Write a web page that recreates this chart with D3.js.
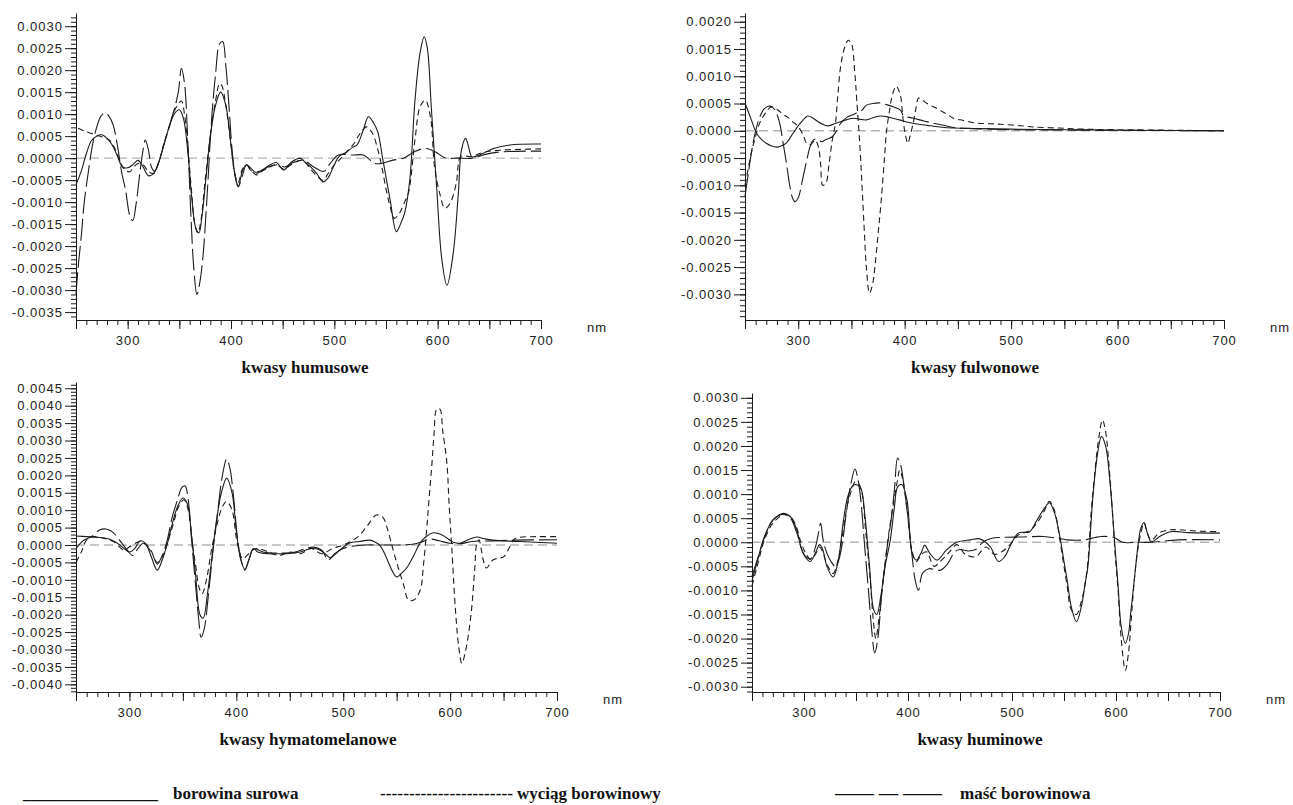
<!DOCTYPE html>
<html>
<head>
<meta charset="utf-8">
<script src="https://cdn.jsdelivr.net/npm/d3@7"></script>
<style>
  body { margin: 0; background: #fff; }
  svg { display: block; }
</style>
</head>
<body>
<svg id="chart" width="1293" height="805"></svg>
<script>
// all values, in units of 1e-4 (tick labels are divided back)

// --- kwasy humusowe
const humSurowa = [[250,-6],[255,-3],[260,1],[265,4],[270,5],[275,5.3],[280,4.5],[285,3],[290,0.5],[295,-2],[300,-2.2],[305,-1.5],[310,-0.5],[315,-2],[320,-4],[325,-3.5],[330,-1],[335,3],[340,7],[345,10],[350,11],[354,9],[358,2],[362,-9],[366,-16],[369,-17],[372,-13],[376,-4],[380,5],[385,12],[390,15],[395,12],[400,3],[404,-4],[407,-6.5],[411,-3],[415,-1.5],[420,-2.5],[425,-3.4],[431,-2.6],[438,-1.5],[444,-1],[451,-2.7],[458,-1],[467,0],[472,-1],[477,-2],[483,-3.5],[489,-5.4],[494,-4.5],[499,-2],[505,0.5],[512,1.4],[518,2.5],[522,3],[528,6.4],[533,9.4],[538,8],[542,6],[547,-0.4],[554,-9.5],[560,-16.7],[564,-15],[568,-12.5],[573,-5],[578,13],[583,24],[587,27.6],[590,25],[594,11],[599,-6.5],[604,-23],[609,-28.9],[615,-21.7],[620,-8],[623,1.8],[627,4.5],[630,2.5],[633,0.3],[638,0.5],[644,1.1],[654,2.2],[670,3],[700,3.2]];
const humWyciag = [[252,6.8],[260,6],[270,5.2],[278,4.6],[283,4],[288,2],[294,-1.5],[298,-2.8],[302,-3.1],[306,-2],[310,-1.2],[315,-1.5],[320,-3],[325,-3.5],[330,-1],[335,3.3],[340,7],[344,10],[348,12],[352,13],[355,10],[358,3],[362,-8],[365,-15],[368,-17],[371,-14],[375,-5],[380,5],[385,13],[389,17],[391,16.6],[395,12],[400,3],[404,-4],[407,-5.5],[411,-2.5],[415,-1.5],[420,-3],[425,-3.8],[431,-2.8],[438,-2],[444,-1.5],[451,-2.5],[458,-1.5],[467,-0.5],[472,-1],[477,-2.5],[483,-4],[489,-5],[494,-3.5],[500,-1.5],[505,-0.4],[512,1.5],[518,3],[525,5.6],[531,7.1],[537,5.6],[542,2],[546,-2],[550,-7],[554,-11],[558,-13.7],[563,-12.5],[568,-10],[572,-7.6],[578,4.1],[583,11.7],[588,13.2],[593,9.4],[597,-2],[602,-8],[607,-11.4],[612,-10.3],[618,-5.7],[622,0.3],[627,0.5],[632,0.3],[640,1],[648,1.5],[660,1.8],[680,2],[700,2.1]];
const humMasc = [[250,-31],[252,-25],[255,-18],[258,-10],[262,-3],[266,3],[270,7],[274,9.5],[278,10.3],[282,9.5],[286,7.5],[290,3],[294,-3],[298,-7.3],[302,-13],[305,-14.2],[308,-10.7],[312,-3],[315,2],[317,4.1],[320,2],[323,-2],[326,-3],[330,-1],[335,3],[340,7],[345,11],[349,15],[352,20.4],[355,17],[358,5],[361,-12],[364,-25],[367,-31],[370,-28],[373,-22],[377,-8],[381,8],[385,19],[389,26],[392,26.5],[395,21],[398,12],[401,2],[404,-4],[407,-6.5],[411,-4],[415,-1.5],[420,-3],[428,-3],[436,-2],[445,-1.5],[452,-2],[460,-1],[470,-0.5],[480,-2],[490,-3],[496,-1.2],[504,0.7],[518,0.7],[528,0.7],[535,-0.5],[539,-1.2],[546,-1.2],[556,-0.5],[567,0],[577,1.4],[588,2.2],[598,1.4],[607,0.1],[620,0],[635,0],[645,0.8],[660,1.4],[700,1.6]];

// --- kwasy fulwonowe
const fulSurowa = [[250,5.1],[255,2.5],[261,-0.5],[265,-1.5],[270,-2.3],[275,-2.8],[280,-3],[285,-2.7],[289,-2.2],[295,-0.5],[302,1.4],[309,2.7],[314,2.3],[319,1.6],[324,1.1],[328,0.9],[333,1.2],[339,1.6],[345,2],[352,2.3],[358,2.1],[364,2],[370,2.4],[377,2.7],[383,2.6],[389,2.3],[395,2],[402,1.6],[410,1.3],[421,1],[433,0.7],[446,0.5],[470,0.4],[500,0.3],[550,0.2],[600,0.1],[650,0.05],[700,0]];
const fulWyciag = [[250,-10],[253,-7],[256,-4],[259,-1.7],[264,1.5],[269,3.2],[273,4.2],[276,4.4],[281,3.8],[286,3],[290,2.5],[295,1.6],[299,1],[304,-0.5],[308,-2.3],[312,-2.5],[316,-1.7],[319,-3],[321,-6],[323,-10],[326,-9.6],[329,-6],[332,-1.7],[335,1.4],[337,6],[340,12],[344,15.5],[347,16.6],[350,16],[353,11],[355,5.6],[358,-3],[360,-10.3],[362,-18],[364,-25],[367,-29.8],[370,-28],[372,-25],[375,-19],[378,-12.7],[381,-5],[383,0],[386,4],[388,6.2],[392,8.2],[396,6.5],[398,3],[400,0],[403,-2.3],[405,-1],[408,1.4],[411,4.5],[413,6],[417,5.6],[421,5],[427,4.4],[433,3.8],[440,3],[446,2.3],[455,1.9],[468,1.4],[480,1.3],[490,1.2],[505,1],[521,0.7],[545,0.5],[568,0.3],[600,0.2],[650,0.1],[700,0]];
const fulMasc = [[250,-12],[253,-8],[256,-4],[260,0],[264,2.6],[268,4],[272,4.5],[276,4.3],[280,3],[283,1],[286,-2.5],[289,-6],[292,-10],[295,-12.5],[297,-13],[300,-12.3],[304,-9],[308,-5.4],[311,-3],[314,-1.7],[318,-1.5],[322,-2],[326,-1.6],[332,-1.1],[336,0],[340,1.4],[346,2.5],[352,3],[356,3.4],[360,3.8],[364,4.7],[370,5],[377,5.1],[383,4.8],[389,4.4],[396,3.8],[399,2.7],[403,2.5],[408,2.3],[418,1.8],[427,1.4],[437,1],[446,0.6],[465,0.4],[480,0.3],[500,0.2],[550,0.15],[600,0.1],[650,0.05],[700,0]];

// --- kwasy hymatomelanowe
const hymSurowa = [[250,2.6],[260,2.4],[270,2.2],[280,1.8],[286,1],[290,0.2],[295,-1],[300,-2],[305,-1],[310,1.2],[315,0.5],[320,-3],[326,-7.2],[331,-4],[336,1],[340,6],[345,11],[350,13.5],[354,12],[358,3],[362,-9],[366,-20],[369,-21],[373,-14],[377,-4],[381,6],[386,15],[391,19.2],[396,15],[400,4],[404,-4],[408,-7],[412,-4],[416,-1],[420,-2],[430,-2.5],[440,-2.5],[450,-2.4],[460,-2],[470,-1],[478,-1.4],[483,-2.5],[488,-3.7],[493,-2.5],[497,-1.4],[506,0.6],[515,1],[525,1.4],[530,0.8],[534,0],[538,-2],[542,-4.8],[546,-7.5],[550,-9.2],[555,-8],[560,-6.3],[566,-3],[572,0.6],[578,2.5],[584,3.5],[589,3.3],[593,2.8],[598,1.8],[603,0.8],[609,0.5],[617,1.5],[625,2.3],[632,1.8],[640,1.4],[665,1],[700,0.5]];
const hymWyciag = [[250,-5],[255,-2],[260,1.5],[266,2.4],[275,2],[285,1],[295,-1.5],[300,-0.5],[310,1],[315,0.3],[320,-1.5],[326,-5],[332,-2.5],[337,2],[341,6],[346,11],[351,13],[355,10],[359,0],[362,-6],[365,-12],[368,-14],[372,-10],[377,-1],[382,6],[387,11],[391,12.5],[396,10],[400,2],[403,-2],[406,-4],[410,-3],[415,-1.5],[420,-1],[430,-2],[440,-3],[450,-2],[460,-2.5],[470,-1],[480,-2.5],[490,-1],[500,0],[507,1],[514,2.4],[522,5.3],[531,8.6],[537,8],[541,5],[545,0.5],[549,-4],[553,-8],[557,-12],[561,-15.8],[566,-15.8],[572,-13],[575,-6],[578,4.3],[580,12],[583,23.5],[585,32],[587.5,39],[590.5,39],[593,33],[597,23.5],[599,12],[601.5,-0.5],[605,-18.7],[608,-29],[611,-34],[614,-31],[617,-26],[620,-18.7],[623,-7],[625,0.5],[627,1.5],[629,-1],[631,-4.3],[634,-6.6],[640,-4.3],[645,-3.8],[650,-3.4],[655,-1],[659,1.4],[665,2.2],[680,2.4],[700,2.4]];
const hymMasc = [[250,-1],[254,0.5],[258,1.5],[265,2.5],[272,4.3],[278,4.6],[283,4],[288,2.5],[293,0.5],[298,-1.5],[303,-3],[308,-1],[313,0.5],[318,-1],[322,-3],[326,-5.5],[330,-3.5],[335,1],[340,8],[345,13],[349,16.5],[352,17],[355,13],[358,2],[362,-12],[365,-22],[367,-26.5],[370,-24],[374,-14],[378,-2],[382,8],[387,20],[391,24.7],[394,22],[398,12],[401,2],[405,-5],[408,-7.2],[412,-4],[416,-1],[425,-2],[440,-2.3],[455,-2],[465,-1],[472,-0.6],[480,-1.5],[486,-4.3],[492,-2.5],[500,-1],[510,-0.3],[520,0],[535,0],[550,0],[565,0.2],[573,0.8],[581,1.7],[590,1.2],[600,0.5],[610,0.4],[620,1],[640,1.2],[660,1.4],[700,1.5]];

// --- kwasy huminowe
const humiSurowa = [[250,-8],[255,-4],[262,1.2],[270,4.6],[275,5.5],[280,6],[287,5.3],[293,2.6],[297,-1],[301,-3],[306,-4],[311,-2.2],[315,-0.5],[318,-1.5],[322,-5],[328,-7.2],[333,-3.7],[338,4.6],[342,9.4],[346,11.5],[349,12],[352,11.8],[355,11],[359,4.6],[363,-5],[367,-14],[370,-15],[374,-11],[378,-5],[383,0.5],[387,7.4],[390,11.5],[394,12],[399,8.8],[404,-2.3],[408,-3.7],[413,-2],[416,-0.6],[421,-2.3],[428,-3.7],[437,-1.6],[447,0],[460,0.5],[469,0.7],[479,-0.9],[487,-4],[493,-3],[498,-0.9],[506,1.9],[517,2.2],[524,4.6],[531,7],[536,8.2],[541,6],[546,1.2],[550,-4],[553,-7.8],[557,-13.4],[562,-16.5],[567,-13],[570,-9],[573,-5],[576,4],[578,10],[582,18],[586,22],[590,20],[594,13],[597,5],[599,-0.9],[602,-9],[605,-17.5],[609,-21],[612,-19],[614,-15],[618,-7],[621,-0.9],[624,3],[627,4.1],[630,2],[634,0.1],[642,1.2],[652,2.2],[670,2],[700,1.9]];
const humiWyciag = [[250,-9],[255,-5],[262,0.5],[270,4],[275,5],[280,5.8],[287,5.3],[293,3],[297,0],[301,-2],[306,-3.5],[311,-2.5],[315,-1],[318,-2],[322,-4.5],[328,-6.5],[333,-3.5],[338,3],[342,8],[346,11],[349,12.5],[353,12],[356,10],[359,3],[363,-6],[367,-17],[369,-20],[372,-16],[376,-8],[381,1],[386,8],[390,13],[392,15],[395,13],[399,7],[404,-2],[408,-4],[413,-2.5],[418,-2],[425,-5],[431,-4],[440,-2],[447,-0.5],[455,-2.5],[465,-3],[475,-1],[483,-2.5],[490,-2],[498,-0.5],[506,1.5],[517,2.4],[524,4],[531,6.5],[536,8.5],[541,6.5],[546,0.5],[550,-5],[553,-9],[557,-14],[562,-15],[567,-12],[570,-9],[573,-4],[576,6],[579,13],[583,21],[587,25.4],[590,23],[594,14],[597,5],[599,-2],[602,-10],[605,-20],[609,-26.6],[612,-23],[615,-15],[618,-7],[621,-1.5],[624,2],[627,4],[630,2],[634,0.5],[642,2],[652,2.6],[660,2.6],[680,2.3],[700,2.2]];
const humiMasc = [[250,-7],[256,-3],[262,1],[270,4.6],[280,5.8],[287,5],[293,2],[300,-2.5],[306,-3.5],[311,-1],[314,2],[316,4],[318,1],[320,-1],[326,-4],[330,-5],[333,-4],[337,0],[340,5],[345,12],[349,15.2],[352,13],[355,8],[358,0],[362,-10],[365,-18],[368,-23],[371,-20],[375,-10],[380,-1],[384,5],[387,11],[390,17.5],[393,16],[396,12],[400,5],[404,-3],[407,-8],[410,-10],[414,-6.4],[420,-5.5],[431,-5.8],[438,-4.5],[445,-2],[450,-1.5],[458,-1.8],[465,-1.5],[472,0],[480,0.8],[490,1],[510,1.1],[530,1.2],[545,0.8],[553,0.5],[570,0.5],[580,1],[586,1.2],[598,1],[606,0],[620,0],[634,0],[660,0.5],[700,0.5]];

// tick values (1e-4 units) and wavelength ticks
const humTicks = [-35,-30,-25,-20,-15,-10,-5,0,5,10,15,20,25,30];
const fulTicks = [-30,-25,-20,-15,-10,-5,0,5,10,15,20];
const hymTicks = [-40,-35,-30,-25,-20,-15,-10,-5,0,5,10,15,20,25,30,35,40,45];
const humiTicks = [-30,-25,-20,-15,-10,-5,0,5,10,15,20,25,30];
const nmMajor = [250,300,350,400,450,500,550,600,650,700];
const nmLabels = [300,400,500,600,700];

const seriesNames = ['borowina surowa', 'wyciąg borowinowy', 'maść borowinowa'];
const dashes = [null, '6,4', '22,5'];

const panels = [
  {title: 'kwasy humusowe', series: [humSurowa, humWyciag, humMasc], ticks: humTicks,
   left: 76, right: 541, top: 13, bottom: 320, vTop: 33, vBot: -36.8, titleX: 305},
  {title: 'kwasy fulwonowe', series: [fulSurowa, fulWyciag, fulMasc], ticks: fulTicks,
   left: 745, right: 1224, top: 13, bottom: 320, vTop: 21.6, vBot: -34.7, titleX: 975},
  {title: 'kwasy hymatomelanowe', series: [hymSurowa, hymWyciag, hymMasc], ticks: hymTicks,
   left: 76, right: 557, top: 382, bottom: 692, vTop: 46.8, vBot: -42.2, titleX: 308},
  {title: 'kwasy huminowe', series: [humiSurowa, humiWyciag, humiMasc], ticks: humiTicks,
   left: 752, right: 1220, top: 393, bottom: 692, vTop: 31, vBot: -31.1, titleX: 980}
];

const svg = d3.select('#chart');
const fmt = d => (d / 1e4).toFixed(4);
const tickFont = '"Liberation Sans", Arial, sans-serif';
const serif = '"Liberation Serif", "Times New Roman", serif';

function styleAxis(g) {
  g.selectAll('path, line').attr('stroke', '#1a1a1a').attr('stroke-width', 1);
  g.selectAll('text')
    .attr('fill', '#222')
    .style('font-family', tickFont)
    .style('font-size', '13px')
    .style('letter-spacing', '1px');
}

panels.forEach(p => {
  const x = d3.scaleLinear().domain([250, 700]).range([p.left, p.right]);
  const y = d3.scaleLinear().domain([p.vBot, p.vTop]).range([p.bottom, p.top]);
  const g = svg.append('g');

  // zero reference
  g.append('line')
    .attr('x1', p.left).attr('x2', p.right)
    .attr('y1', y(0)).attr('y2', y(0))
    .attr('stroke', '#b4b4b4')
    .attr('stroke-width', 1.4)
    .attr('stroke-dasharray', '9,5');

  const line = d3.line()
    .x(d => x(d[0]))
    .y(d => y(d[1]))
    .curve(d3.curveCatmullRom.alpha(0.5));

  p.series.forEach((s, i) => {
    g.append('path')
      .datum(s)
      .attr('class', 'series')
      .attr('data-name', seriesNames[i])
      .attr('d', line)
      .attr('fill', 'none')
      .attr('stroke', '#1c1c1c')
      .attr('stroke-width', 1.1)
      .attr('stroke-dasharray', dashes[i]);
  });

  // y axis: minor comb + labelled majors
  const minor = d3.range(Math.ceil(p.vBot), p.vTop, 1);
  g.append('g')
    .attr('transform', `translate(${p.left},0)`)
    .call(d3.axisLeft(y).tickValues(minor).tickSize(5).tickSizeOuter(0).tickFormat(''))
    .call(a => a.select('.domain').remove())
    .call(styleAxis);
  g.append('g')
    .attr('transform', `translate(${p.left},0)`)
    .call(d3.axisLeft(y).tickValues(p.ticks).tickSize(11).tickSizeOuter(0).tickPadding(2).tickFormat(fmt))
    .call(styleAxis);

  // x axis
  g.append('g')
    .attr('transform', `translate(0,${p.bottom})`)
    .call(d3.axisBottom(x).tickValues(d3.range(250, 701, 10)).tickSize(5).tickSizeOuter(0).tickFormat(''))
    .call(a => a.select('.domain').remove())
    .call(styleAxis);
  g.append('g')
    .attr('transform', `translate(0,${p.bottom})`)
    .call(d3.axisBottom(x).tickValues(nmMajor).tickSize(9).tickSizeOuter(0).tickPadding(7)
      .tickFormat(d => nmLabels.includes(d) ? d : ''))
    .call(styleAxis);

  g.append('text')
    .attr('x', p.right + 46).attr('y', p.bottom + 12)
    .attr('fill', '#222')
    .style('font-family', tickFont).style('font-size', '13px').style('letter-spacing', '1px')
    .text('nm');

  g.append('text')
    .attr('x', p.titleX).attr('y', p.bottom + 53)
    .attr('text-anchor', 'middle')
    .attr('fill', '#111')
    .style('font-family', serif).style('font-size', '17px').style('font-weight', 'bold')
    .text(p.title);
});

// legend, typed like the original figure caption
const legend = svg.append('g')
  .style('font-family', serif).style('font-size', '17px').style('font-weight', 'bold')
  .attr('fill', '#111');
legend.append('text').attr('x', 23).attr('y', 799).attr('textLength', 135).attr('lengthAdjust', 'spacingAndGlyphs').text('________________');
legend.append('text').attr('x', 173).attr('y', 799).text(seriesNames[0]);
legend.append('text').attr('x', 380).attr('y', 799).attr('textLength', 133).attr('lengthAdjust', 'spacingAndGlyphs').text('-----------------------');
legend.append('text').attr('x', 517).attr('y', 799).text(seriesNames[1]);
legend.append('text').attr('x', 835).attr('y', 799).attr('textLength', 107).attr('lengthAdjust', 'spacingAndGlyphs').text('—— —  ——');
legend.append('text').attr('x', 960).attr('y', 799).text(seriesNames[2]);
</script>
</body>
</html>
